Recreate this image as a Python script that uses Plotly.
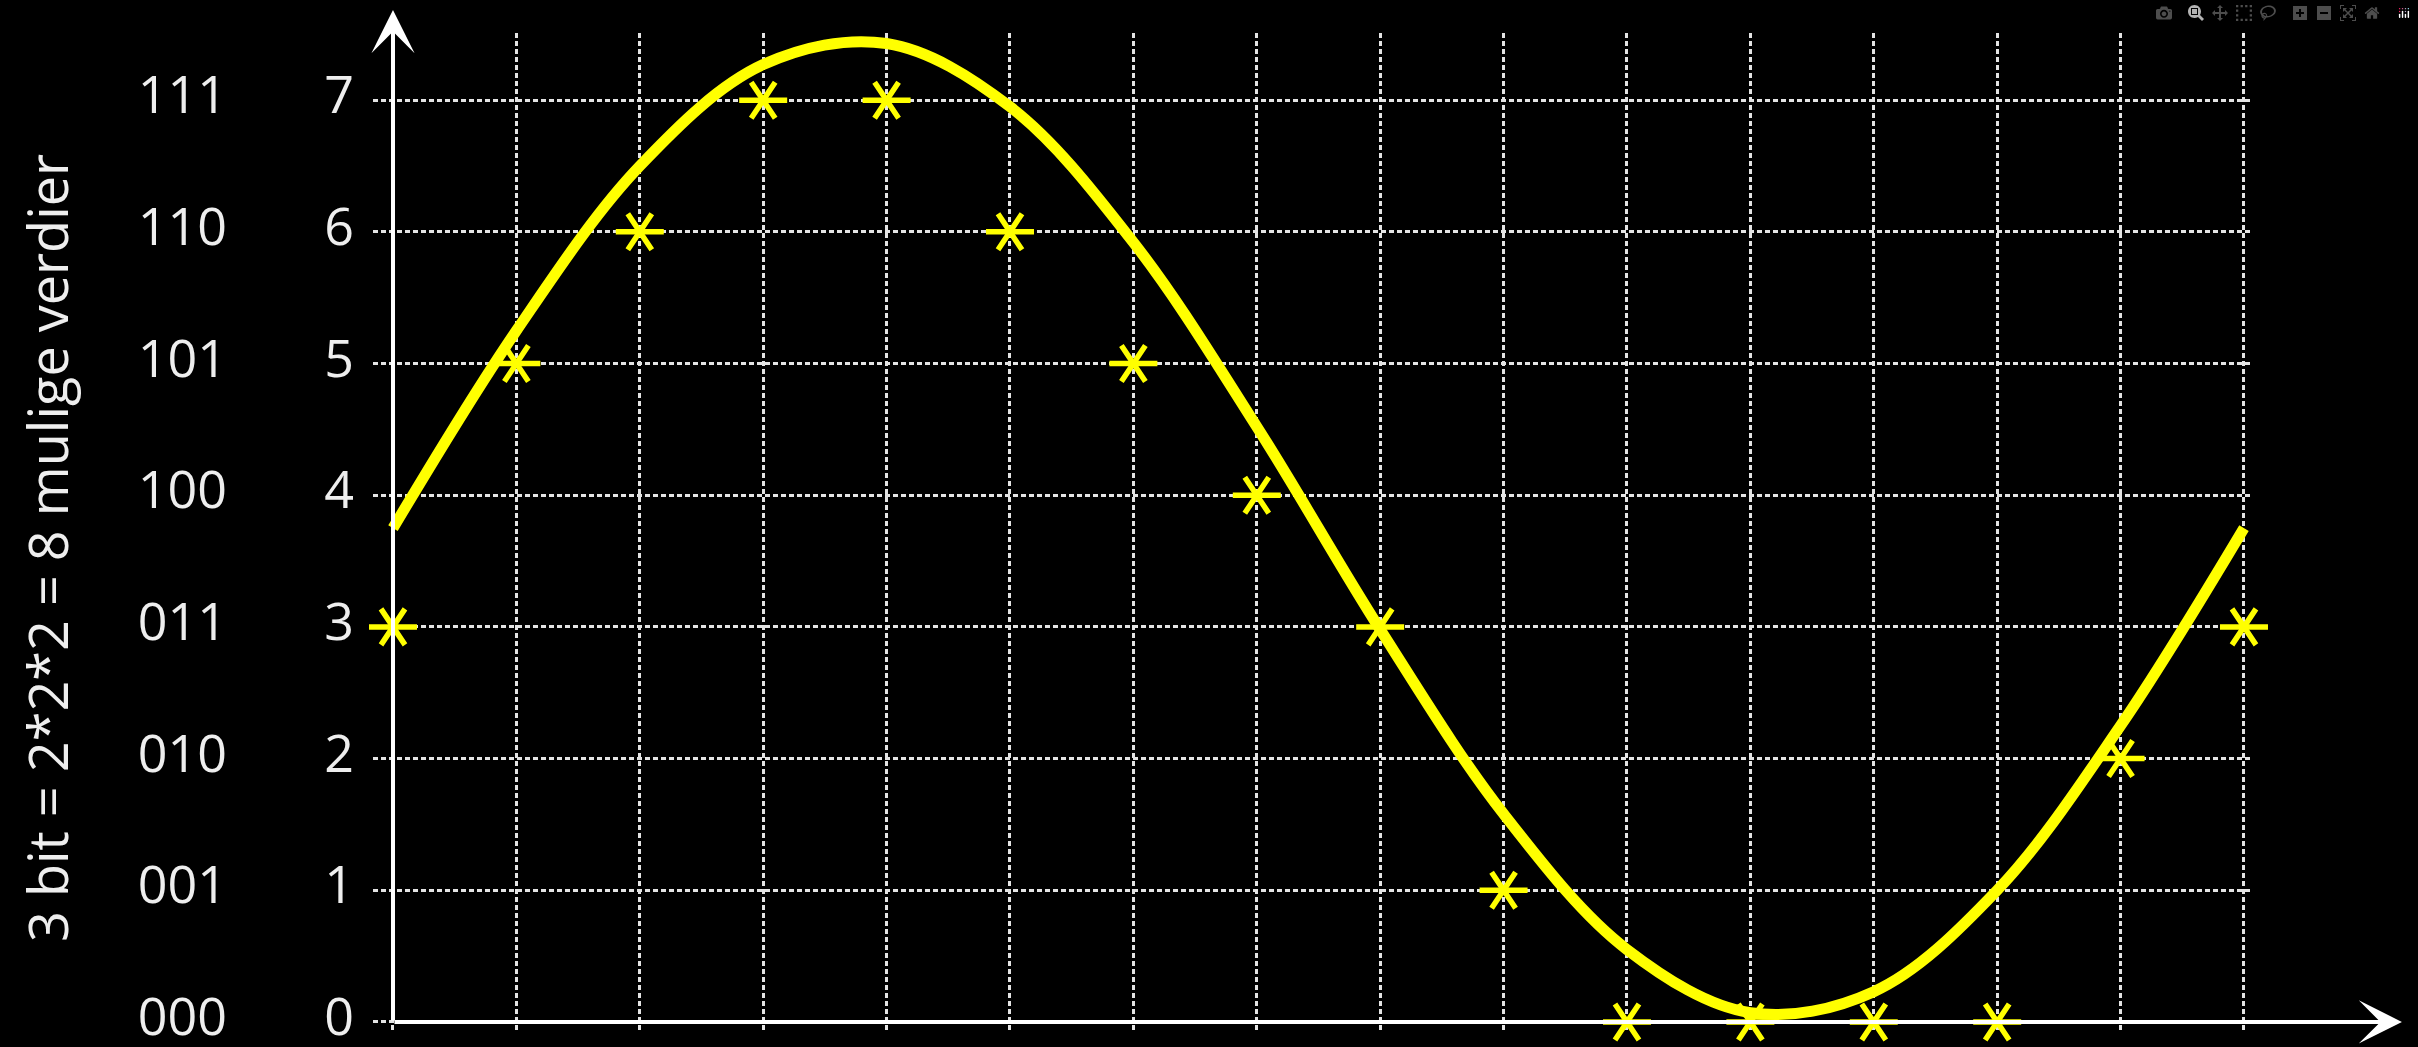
import plotly.graph_objects as go

# sample index on the time axis
x_samples = list(range(16))
# quantised value of each sample (3 bit)
levels = [3, 5, 6, 7, 7, 6, 5, 4, 3, 1, 0, 0, 0, 0, 2, 3]
# the analogue signal at each sample
signal = [3.75, 5.25, 6.5, 7.27, 7.43, 6.95, 5.92, 4.52, 2.98, 1.58, 0.55, 0.07, 0.23, 1.0, 2.25, 3.75]

level_ticks = [0, 1, 2, 3, 4, 5, 6, 7]
binary_labels = ["000", "001", "010", "011", "100", "101", "110", "111"]

YELLOW = "#ffff00"
GRID = "#e4e4e4"
TXT = "#eeeeee"
FONT = "Open Sans"

X_RANGE = [-0.162, 15.065]
Y_RANGE = [-0.084, 7.51]

fig = go.Figure()
fig.add_scatter(x=x_samples, y=signal, mode="lines", line=dict(color=YELLOW, width=11, shape="spline"),
                hoverinfo="skip", showlegend=False)
# six-armed star = y-left + y-right (second one on y2 so the binary axis gets drawn)
for sym, ax in (("y-left", "y"), ("y-right", "y2")):
    fig.add_scatter(x=x_samples, y=levels, yaxis=ax, mode="markers", cliponaxis=False, showlegend=False,
                    marker=dict(symbol=sym, size=30, color=YELLOW, line=dict(color=YELLOW, width=5.5)))

# axis arrows
fig.add_annotation(x=0, xref="x", y=1.023, yref="paper", ax=0, ay=1012, text="", showarrow=True,
                   arrowhead=3, arrowsize=1.8, arrowwidth=4, arrowcolor="white", standoff=0)
fig.add_annotation(x=1.0798, xref="paper", y=0, yref="y", ax=-2009, ay=0, text="", showarrow=True,
                   arrowhead=3, arrowsize=1.8, arrowwidth=4, arrowcolor="white", standoff=0)
fig.add_annotation(x=-0.1735, xref="paper", y=0.485, yref="paper", xanchor="center", yanchor="middle",
                   text="3 bit = 2*2*2 = 8 mulige verdier", textangle=-90, showarrow=False,
                   font=dict(family=FONT, size=54, color=TXT))

grid = dict(showgrid=True, gridcolor=GRID, gridwidth=3, griddash="5px,3px", zeroline=False,
            showline=False, automargin=False)
fig.update_layout(
    width=2418, height=1047,
    margin=dict(l=373, r=166, t=33, b=14),
    paper_bgcolor="black", plot_bgcolor="black",
    font=dict(family=FONT, size=52, color=TXT),
    xaxis=dict(range=X_RANGE, tick0=0, dtick=1, showticklabels=False, ticks="", **grid),
    yaxis=dict(range=Y_RANGE, tickvals=level_ticks, ticks="", ticklabelstandoff=18,
               ticklabelshift=-5, ticklabeloverflow="allow", **grid),
    yaxis2=dict(range=Y_RANGE, overlaying="y", anchor="free", position=0, side="left",
                tickvals=level_ticks, ticktext=binary_labels, ticks="", showgrid=False,
                zeroline=False, showline=False, ticklabelstandoff=146, ticklabelshift=-5,
                ticklabeloverflow="allow", automargin=False),
)
fig.write_html("out.html", post_script="document.body.style.margin='0';document.body.style.background='black';")
